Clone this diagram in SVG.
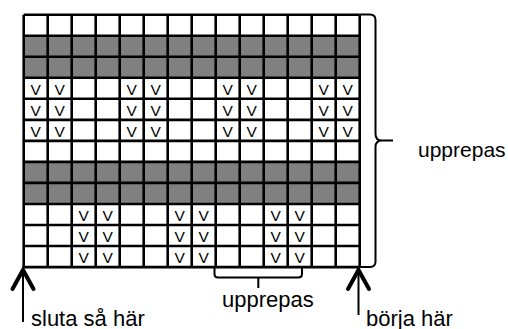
<svg xmlns="http://www.w3.org/2000/svg" width="508" height="329" viewBox="0 0 508 329">
<defs>
<style>
.bg{fill:#ffffff}
.gray{fill:#808080}
.grid{fill:none;stroke:#000;stroke-width:2.6}
.v{font-family:"Liberation Sans",Arial,sans-serif;font-size:15.5px;fill:#000;text-anchor:middle}
.lbl{font-family:"Liberation Sans",Arial,sans-serif;font-size:22px;fill:#000}
.lbl-side{font-size:21px}
.line{fill:none;stroke:#000;stroke-width:2}
.head{fill:none;stroke:#000;stroke-width:4;stroke-linejoin:miter;stroke-linecap:round}
</style>
</defs>
<rect class="bg" x="0" y="0" width="508" height="329"/>
<g id="chart">
<rect class="gray" x="23.7" y="35.7" width="336" height="42.1"/>
<rect class="gray" x="23.7" y="161.9" width="336" height="42.1"/>
<path class="grid" d="M23.7,14.7H359.7M23.7,35.7H359.7M23.7,56.8H359.7M23.7,77.8H359.7M23.7,98.8H359.7M23.7,119.9H359.7M23.7,140.9H359.7M23.7,161.9H359.7M23.7,182.9H359.7M23.7,204H359.7M23.7,225H359.7M23.7,246H359.7M23.7,267.1H359.7
M23.7,14.7V267.1M47.7,14.7V267.1M71.7,14.7V267.1M95.7,14.7V267.1M119.7,14.7V267.1M143.7,14.7V267.1M167.7,14.7V267.1M191.7,14.7V267.1M215.7,14.7V267.1M239.7,14.7V267.1M263.7,14.7V267.1M287.7,14.7V267.1M311.7,14.7V267.1M335.7,14.7V267.1M359.7,14.7V267.1"/>
<g id="marks-top">
<text class="v" x="35.7" y="94.5">V</text><text class="v" x="59.7" y="94.5">V</text><text class="v" x="131.7" y="94.5">V</text><text class="v" x="155.7" y="94.5">V</text><text class="v" x="227.7" y="94.5">V</text><text class="v" x="251.7" y="94.5">V</text><text class="v" x="323.7" y="94.5">V</text><text class="v" x="347.7" y="94.5">V</text>
<text class="v" x="35.7" y="115.5">V</text><text class="v" x="59.7" y="115.5">V</text><text class="v" x="131.7" y="115.5">V</text><text class="v" x="155.7" y="115.5">V</text><text class="v" x="227.7" y="115.5">V</text><text class="v" x="251.7" y="115.5">V</text><text class="v" x="323.7" y="115.5">V</text><text class="v" x="347.7" y="115.5">V</text>
<text class="v" x="35.7" y="136.6">V</text><text class="v" x="59.7" y="136.6">V</text><text class="v" x="131.7" y="136.6">V</text><text class="v" x="155.7" y="136.6">V</text><text class="v" x="227.7" y="136.6">V</text><text class="v" x="251.7" y="136.6">V</text><text class="v" x="323.7" y="136.6">V</text><text class="v" x="347.7" y="136.6">V</text>
</g>
<g id="marks-bottom">
<text class="v" x="83.7" y="220.7">V</text><text class="v" x="107.7" y="220.7">V</text><text class="v" x="179.7" y="220.7">V</text><text class="v" x="203.7" y="220.7">V</text><text class="v" x="275.7" y="220.7">V</text><text class="v" x="299.7" y="220.7">V</text>
<text class="v" x="83.7" y="241.7">V</text><text class="v" x="107.7" y="241.7">V</text><text class="v" x="179.7" y="241.7">V</text><text class="v" x="203.7" y="241.7">V</text><text class="v" x="275.7" y="241.7">V</text><text class="v" x="299.7" y="241.7">V</text>
<text class="v" x="83.7" y="262.7">V</text><text class="v" x="107.7" y="262.7">V</text><text class="v" x="179.7" y="262.7">V</text><text class="v" x="203.7" y="262.7">V</text><text class="v" x="275.7" y="262.7">V</text><text class="v" x="299.7" y="262.7">V</text>
</g>
</g>
<g id="connectors">
<path id="brace-right" class="line" d="M359.7,14.5H370Q375.5,14.5 375.5,20V134Q375.5,140.5 382,140.5H393M382,140.5Q375.5,140.5 375.5,147V261.5Q375.5,267 370,267H359.7"/>
<path id="brace-bottom" class="line" d="M214.5,268V274Q214.5,277.5 218,277.5H298Q302,277.5 302,274V268M258.3,277.5V288"/>
<g id="arrow-left">
<path class="line" d="M23,270V322"/>
<path class="head" d="M12.5,289L23,270L33.5,289"/>
</g>
<g id="arrow-right">
<path class="line" d="M358.5,270V315"/>
<path class="head" d="M348,289L358.5,270L369,289"/>
</g>
</g>
<g id="label-repeat-right"><text class="lbl lbl-side" x="418" y="157">upprepas</text></g>
<g id="label-repeat-bottom"><text class="lbl" x="222" y="307">upprepas</text></g>
<g id="label-end"><text class="lbl" x="31" y="325.5">sluta så här</text></g>
<g id="label-start"><text class="lbl" x="366" y="325.5">börja här</text></g>
</svg>
